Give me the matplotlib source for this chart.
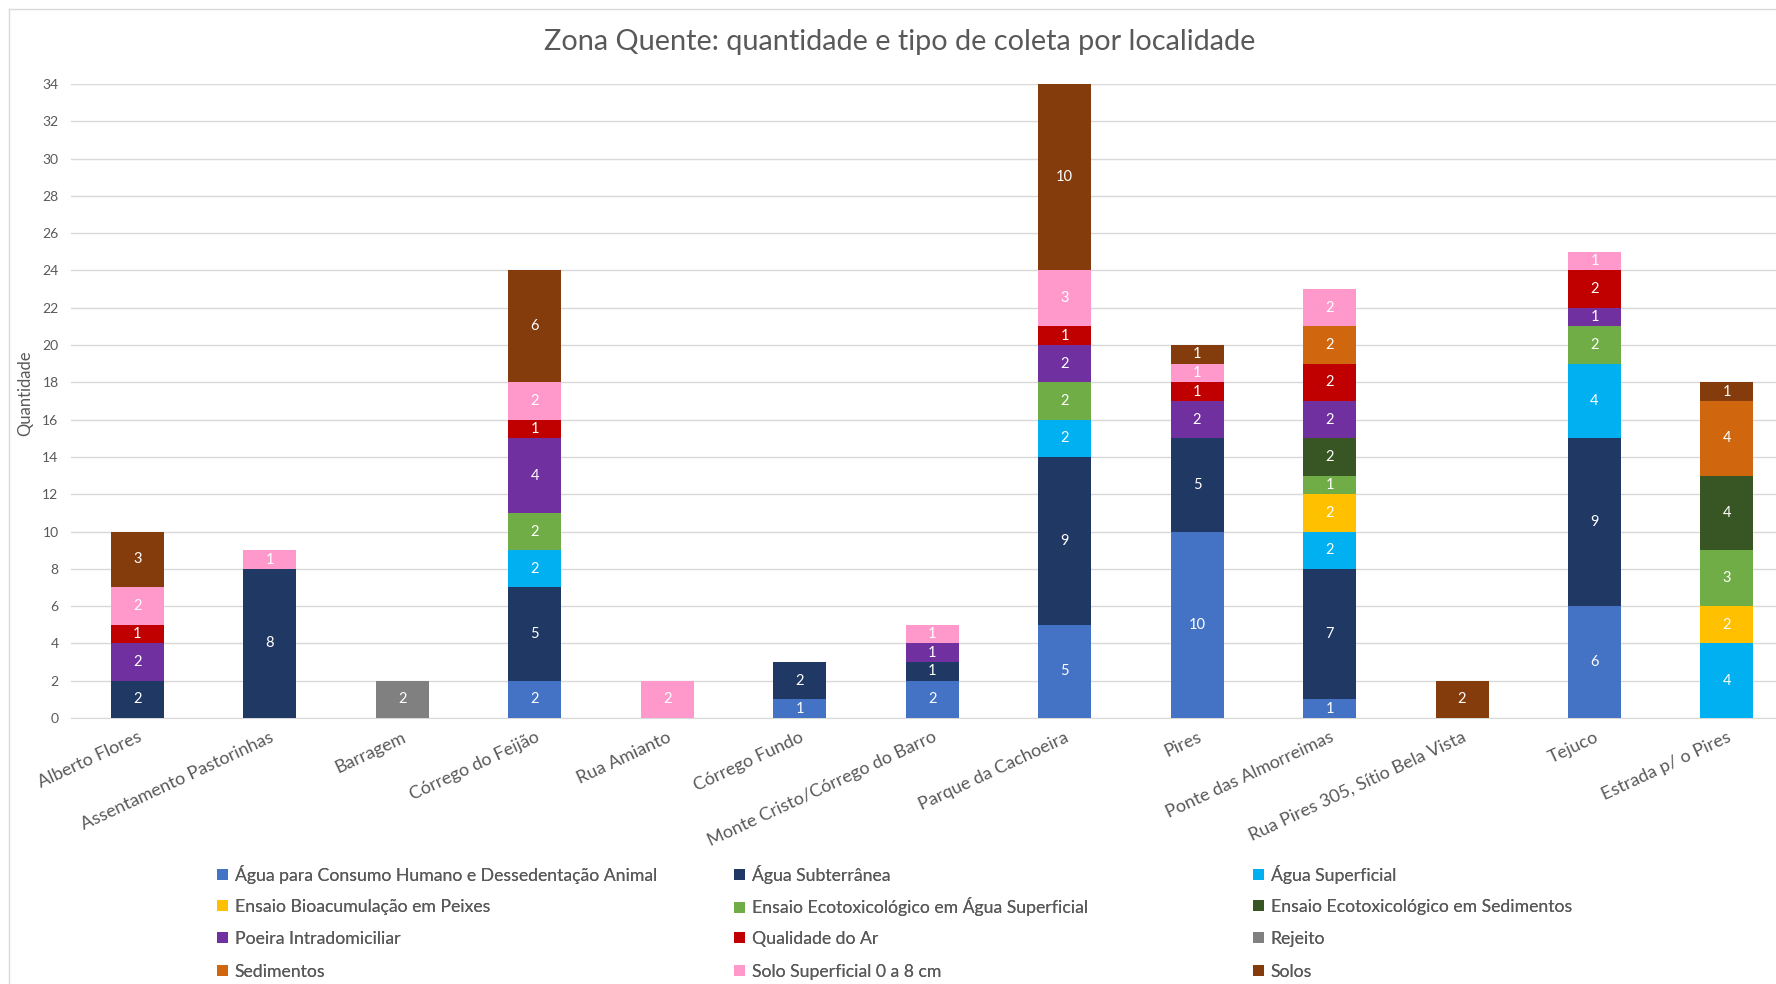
import matplotlib.pyplot as plt
import numpy as np
from matplotlib.patches import Patch
from matplotlib.lines import Line2D

plt.rcParams['font.family'] = ['Lato', 'DejaVu Sans']

localidades = ['Alberto Flores', 'Assentamento Pastorinhas', 'Barragem', 'Córrego do Feijão',
               'Rua Amianto', 'Córrego Fundo', 'Monte Cristo/Córrego do Barro',
               'Parque da Cachoeira', 'Pires', 'Ponte das Almorreimas',
               'Rua Pires 305, Sítio Bela Vista', 'Tejuco', 'Estrada p/ o Pires']

# uma lista por tipo de coleta, na ordem das localidades
agua_consumo = [0, 0, 0, 2, 0, 1, 2, 5, 10, 1, 0, 6, 0]
agua_subterranea = [2, 8, 0, 5, 0, 2, 1, 9, 5, 7, 0, 9, 0]
agua_superficial = [0, 0, 0, 2, 0, 0, 0, 2, 0, 2, 0, 4, 4]
bioacumulacao = [0, 0, 0, 0, 0, 0, 0, 0, 0, 2, 0, 0, 2]
ecotox_agua = [0, 0, 0, 2, 0, 0, 0, 2, 0, 1, 0, 2, 3]
ecotox_sedimentos = [0, 0, 0, 0, 0, 0, 0, 0, 0, 2, 0, 0, 4]
poeira = [2, 0, 0, 4, 0, 0, 1, 2, 2, 2, 0, 1, 0]
qualidade_ar = [1, 0, 0, 1, 0, 0, 0, 1, 1, 2, 0, 2, 0]
rejeito = [0, 0, 2, 0, 0, 0, 0, 0, 0, 0, 0, 0, 0]
sedimentos = [0, 0, 0, 0, 0, 0, 0, 0, 0, 2, 0, 0, 4]
solo_superficial = [2, 1, 0, 2, 2, 0, 1, 3, 1, 2, 0, 1, 0]
solos = [3, 0, 0, 6, 0, 0, 0, 10, 1, 0, 2, 0, 1]

tipos = ['Água para Consumo Humano e Dessedentação Animal', 'Água Subterrânea',
         'Água Superficial', 'Ensaio Bioacumulação em Peixes',
         'Ensaio Ecotoxicológico em Água Superficial', 'Ensaio Ecotoxicológico em Sedimentos',
         'Poeira Intradomiciliar', 'Qualidade do Ar', 'Rejeito', 'Sedimentos',
         'Solo Superficial 0 a 8 cm', 'Solos']
series = [agua_consumo, agua_subterranea, agua_superficial, bioacumulacao, ecotox_agua,
          ecotox_sedimentos, poeira, qualidade_ar, rejeito, sedimentos, solo_superficial, solos]
cores = ['#4472C4', '#203864', '#00B0F0', '#FFC000', '#70AD47', '#375623',
         '#7030A0', '#C00000', '#808080', '#D0670F', '#FF99CC', '#843C0C']

cinza = '#595959'

fig = plt.figure(figsize=(17.76, 9.84), dpi=100)
ax = fig.add_axes([71 / 1776, 1 - 718 / 984, 1 - 71 / 1776, (718 - 84) / 984])

x = np.arange(len(localidades))
base = np.zeros(len(localidades))
for vals, cor, nome in zip(series, cores, tipos):
    vals = np.array(vals)
    barras = ax.bar(x, vals, 0.4, bottom=base, color=cor, label=nome, zorder=3)
    rotulos = [str(v) if v > 0 else '' for v in vals]
    ax.bar_label(barras, labels=rotulos, label_type='center', color='white', fontsize=10.5)
    base += vals

ax.set_ylim(0, 34)
ax.set_xlim(-0.5, 12.37)
ax.set_yticks(range(0, 35, 2))
ax.grid(axis='y', color='#D9D9D9', linewidth=1, zorder=0)
for s in ['top', 'right', 'left']:
    ax.spines[s].set_visible(False)
ax.spines['bottom'].set_color('#D9D9D9')
ax.tick_params(axis='y', length=0, labelsize=10, labelcolor=cinza, pad=9)
ax.tick_params(axis='x', length=0, pad=8)
ax.set_xticks(x, localidades, rotation=25, ha='right', rotation_mode='anchor',
              fontsize=13, color=cinza)

fig.text(25 / 1776, 1 - 393 / 984, 'Quantidade', rotation=90, ha='center', va='center',
         fontsize=12, color=cinza)
fig.text(900 / 1776, 1 - 42 / 984, 'Zona Quente: quantidade e tipo de coleta por localidade',
         ha='center', va='center', fontsize=20.8, color=cinza)

# legenda em 3 colunas, preenchida por linha como no Excel
col_x = [217, 734, 1253]
lin_y = [874, 907, 939, 972]
for i, (nome, cor) in enumerate(zip(tipos, cores)):
    lin, col = divmod(i, 3)
    leg = fig.legend([Patch(facecolor=cor)], [nome], loc='center left',
                     bbox_to_anchor=(col_x[col] / 1776, 1 - lin_y[lin] / 984),
                     frameon=False, fontsize=12.7, labelcolor=cinza, handlelength=0.6,
                     handleheight=0.6, handletextpad=0.4, borderpad=0, borderaxespad=0)
    fig.add_artist(leg)

# borda da área do gráfico
fig.add_artist(Line2D([9 / 1776, 9 / 1776], [0, 1 - 9 / 984], color='#D9D9D9', lw=1))
fig.add_artist(Line2D([9 / 1776, 1], [1 - 9 / 984, 1 - 9 / 984], color='#D9D9D9', lw=1))

fig.savefig('out.png', dpi=100)
